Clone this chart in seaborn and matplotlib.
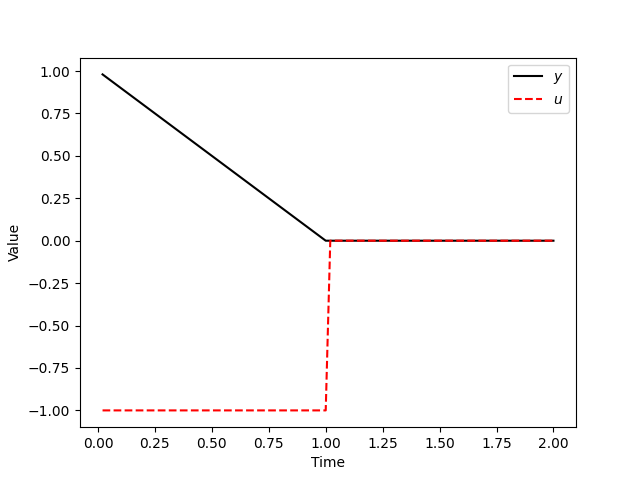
import matplotlib
matplotlib.use('Agg')
import matplotlib.pyplot as plt
import seaborn as sns
import pandas as pd

# breakpoints
t_y = [0.02, 1.0, 2.0]
y_vals = [0.98, 0.0, 0.0]

t_u = [0.02, 1.0, 1.02, 2.0]
u_vals = [-1.0, -1.0, 0.0, 0.0]

df_y = pd.DataFrame({'Time': t_y, 'Value': y_vals})
df_u = pd.DataFrame({'Time': t_u, 'Value': u_vals})

fig, ax = plt.subplots(figsize=(6.4, 4.8), dpi=100)
sns.lineplot(data=df_y, x='Time', y='Value', color='black', label='$y$', ax=ax)
sns.lineplot(data=df_u, x='Time', y='Value', color='red', linestyle='--', label='$u$', ax=ax)

ax.set_xlabel('Time')
ax.set_ylabel('Value')
ax.legend(loc='upper right')

plt.savefig('out.png')
